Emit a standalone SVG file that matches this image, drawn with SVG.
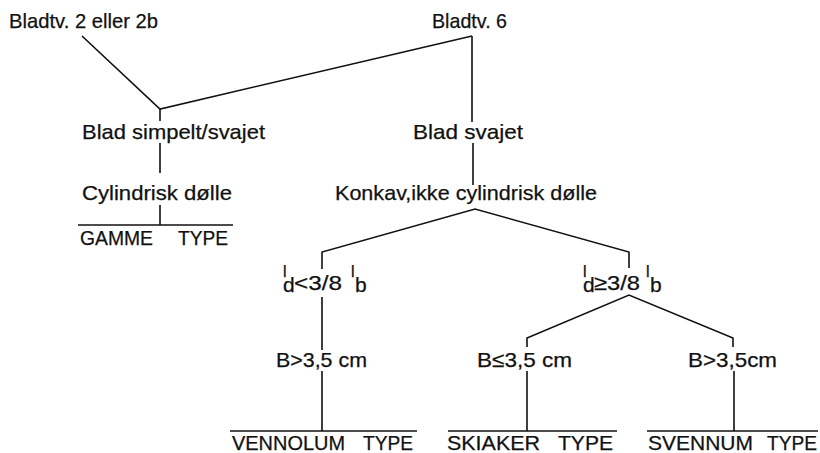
<svg xmlns="http://www.w3.org/2000/svg" width="820" height="453" viewBox="0 0 820 453">
  <style>
    text { font-family: "Liberation Sans", Arial, Helvetica, sans-serif; font-size: 21px; fill: #111; stroke: #111; stroke-width: 0.25; }
    .sm { font-size: 16px; }
    .type { font-size: 20px; }
    .edge { stroke: #111; stroke-width: 1.6; fill: none; }
  </style>
  <rect width="820" height="453" fill="#fff"/>

  <g id="connectors">
    <path class="edge" d="M82,36 L160,109 L472,36"/>
    <path class="edge" d="M160,109 V121 M160,143 V173 M160,205 V225"/>
    <path class="edge" d="M78,225 H233"/>
    <path class="edge" d="M472,36 V122 M473,143 V185"/>
    <path class="edge" d="M322,269 V252 L475,209 L629,252 V268"/>
    <path class="edge" d="M322,297 V350 M322,371 V431"/>
    <path class="edge" d="M230,431 H417"/>
    <path class="edge" d="M527,347 V338 L629,295 L733,338 V347"/>
    <path class="edge" d="M527,371 V431 M448,431 H617"/>
    <path class="edge" d="M734,371 V431 M647,431 H818"/>
  </g>

  <g id="bladtv-2">
    <text x="9" y="28" textLength="149" lengthAdjust="spacingAndGlyphs">Bladtv. 2 eller 2b</text>
  </g>
  <g id="bladtv-6">
    <text x="432" y="28" textLength="75" lengthAdjust="spacingAndGlyphs">Bladtv. 6</text>
  </g>
  <g id="blad-simpelt">
    <text x="82" y="139" textLength="183" lengthAdjust="spacingAndGlyphs">Blad simpelt/svajet</text>
  </g>
  <g id="blad-svajet">
    <text x="413" y="139" textLength="110" lengthAdjust="spacingAndGlyphs">Blad svajet</text>
  </g>
  <g id="cylindrisk">
    <text x="82" y="200" textLength="150" lengthAdjust="spacingAndGlyphs">Cylindrisk dølle</text>
  </g>
  <g id="konkav">
    <text x="335" y="200" textLength="262" lengthAdjust="spacingAndGlyphs">Konkav,ikke cylindrisk dølle</text>
  </g>
  <g id="gamme-type">
    <text class="type" x="80" y="245" textLength="73" lengthAdjust="spacingAndGlyphs">GAMME</text>
    <text class="type" x="178" y="245" textLength="50" lengthAdjust="spacingAndGlyphs">TYPE</text>
  </g>

  <!-- l with subscript d, stacked: l_d < 3/8 l_b -->
  <g id="ld-lt">
    <text class="sm" x="283" y="277">l</text>
    <text x="283" y="292">d</text>
    <text x="294" y="290" textLength="48" lengthAdjust="spacingAndGlyphs">&lt;3/8</text>
    <text class="sm" x="351" y="277">l</text>
    <text x="355" y="292">b</text>
  </g>
  <g id="ld-ge">
    <text class="sm" x="583" y="277">l</text>
    <text x="583" y="292">d</text>
    <text x="594" y="290" textLength="46" lengthAdjust="spacingAndGlyphs">≥3/8</text>
    <text class="sm" x="646" y="277">l</text>
    <text x="650" y="292">b</text>
  </g>

  <g id="b-gt-left">
    <text x="276" y="367" textLength="91" lengthAdjust="spacingAndGlyphs">B&gt;3,5 cm</text>
  </g>
  <g id="b-le">
    <text x="477" y="367" textLength="95" lengthAdjust="spacingAndGlyphs">B≤3,5 cm</text>
  </g>
  <g id="b-gt-right">
    <text x="688" y="367" textLength="89" lengthAdjust="spacingAndGlyphs">B&gt;3,5cm</text>
  </g>

  <g id="vennolum-type">
    <text class="type" x="232" y="450" textLength="113" lengthAdjust="spacingAndGlyphs">VENNOLUM</text>
    <text class="type" x="363" y="450" textLength="50" lengthAdjust="spacingAndGlyphs">TYPE</text>
  </g>
  <g id="skiaker-type">
    <text class="type" x="447" y="450" textLength="93" lengthAdjust="spacingAndGlyphs">SKIAKER</text>
    <text class="type" x="558" y="450" textLength="55" lengthAdjust="spacingAndGlyphs">TYPE</text>
  </g>
  <g id="svennum-type">
    <text class="type" x="648" y="450" textLength="105" lengthAdjust="spacingAndGlyphs">SVENNUM</text>
    <text class="type" x="767" y="450" textLength="50" lengthAdjust="spacingAndGlyphs">TYPE</text>
  </g>
</svg>
